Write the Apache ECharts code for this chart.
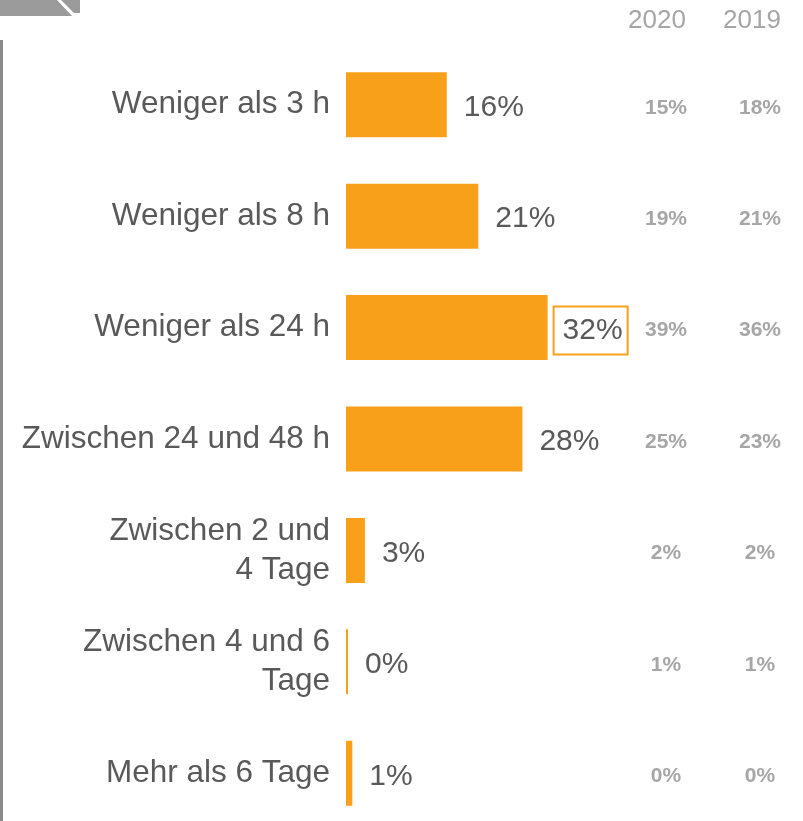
<!DOCTYPE html>
<html>
<head>
<meta charset="utf-8">
<script src="https://cdn.jsdelivr.net/npm/echarts@6/dist/echarts.min.js"></script>
<style>
  html, body { margin: 0; padding: 0; background: #fff; }
  #chart { width: 803px; height: 821px; }
</style>
</head>
<body>
<div id="chart"></div>
<script>
const categories = [
  "Weniger als 3 h",
  "Weniger als 8 h",
  "Weniger als 24 h",
  "Zwischen 24 und 48 h",
  "Zwischen 2 und\n4 Tage",
  "Zwischen 4 und 6\nTage",
  "Mehr als 6 Tage",
];
const values2021 = [16, 21, 32, 28, 3, 0, 1];
const values2020 = [15, 19, 39, 25, 2, 1, 0];
const values2019 = [18, 21, 36, 23, 2, 1, 0];
const yearLabels = ["2020", "2019"];
const highlightIndex = 2;

const font = "'Liberation Sans', Arial, sans-serif";
const orange = "#F9A01B";
const grey = "#A6A6A6";
const textColor = "#595959";

const chart = echarts.init(document.getElementById("chart"));

const option = {
  animation: false,
  grid: { left: 346, top: 49, width: 315, height: 780, outerBoundsMode: "none" },
  xAxis: { type: "value", min: 0, max: 50, show: false },
  yAxis: {
    type: "category",
    data: categories,
    inverse: true,
    axisLine: { show: false },
    axisTick: { show: false },
    splitLine: { show: false },
    axisLabel: {
      margin: 16,
      fontFamily: font,
      fontSize: 31.5,
      lineHeight: 39,
      color: textColor,
    },
  },
  series: [
    {
      type: "bar",
      barWidth: 65,
      barMinHeight: 2,
      itemStyle: { color: orange },
      label: {
        show: true,
        position: "right",
        distance: 17,
        offset: [0, 3],
        fontFamily: font,
        fontSize: 30,
        color: textColor,
        formatter: (p) => p.value + "%",
      },
      data: values2021.map((v, i) =>
        i === highlightIndex
          ? {
              value: v,
              label: {
                distance: 6,
                borderColor: orange,
                borderWidth: 2,
                padding: [9, 5, 9, 9],
              },
            }
          : v
      ),
    },
  ],
};
chart.setOption(option);

// side columns with earlier years, aligned to each category row
const colX = [666, 760];
const headX = [657, 752];
const elements = [
  // corner tab
  { type: "polygon", shape: { points: [[0, 0], [57, 0], [72, 16], [0, 16]] }, style: { fill: "#9B9B9B" } },
  { type: "polygon", shape: { points: [[61, 0], [80, 0], [80, 13], [74, 13]] }, style: { fill: "#9B9B9B" } },
  // left rule
  { type: "rect", shape: { x: 0, y: 40, width: 3, height: 781 }, style: { fill: "#8A8A8A" } },
];
yearLabels.forEach((t, k) => {
  elements.push({
    type: "text",
    x: headX[k],
    y: 21,
    style: { text: t, font: "26px " + font, fill: grey, align: "center", verticalAlign: "middle" },
  });
});
[values2020, values2019].forEach((arr, k) => {
  arr.forEach((v, i) => {
    const y = chart.convertToPixel({ yAxisIndex: 0 }, i);
    elements.push({
      type: "text",
      x: colX[k],
      y: y + 3,
      style: { text: v + "%", font: "bold 21px " + font, fill: grey, align: "center", verticalAlign: "middle" },
    });
  });
});
chart.setOption({ graphic: { elements } });
</script>
</body>
</html>
